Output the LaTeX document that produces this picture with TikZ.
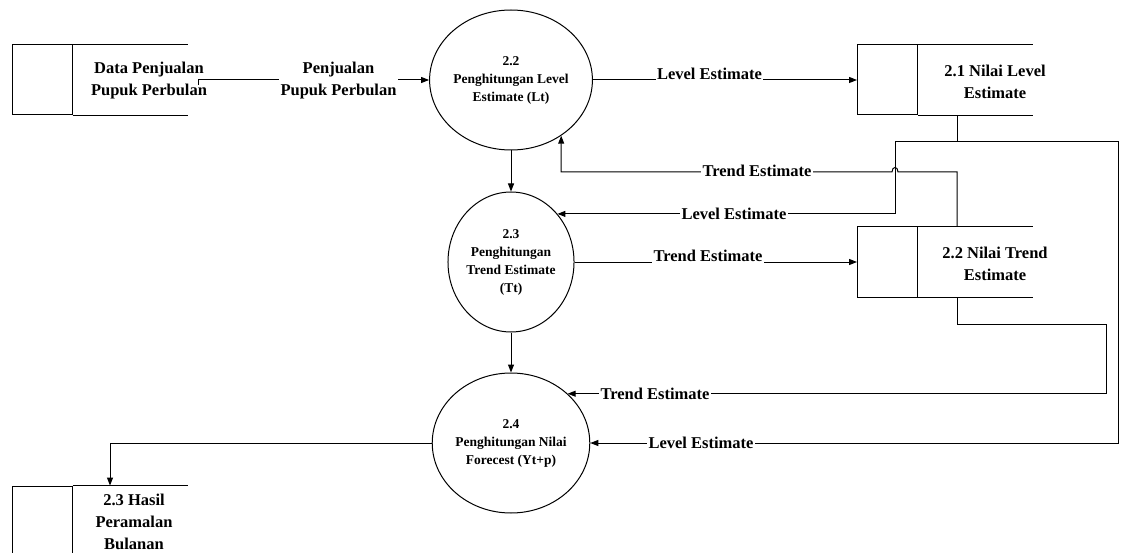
\documentclass[tikz,border=0pt]{standalone}
\usepackage{fontspec}
\setmainfont{Liberation Serif}
\usetikzlibrary{arrows.meta,shapes.geometric,calc}
\begin{document}
\begin{tikzpicture}[x=1pt,y=-1pt,
  line width=1pt,
  proc/.style={draw,ellipse,minimum width=125pt,minimum height=140pt,inner sep=0pt,align=center,font=\fontsize{13.5}{18}\selectfont\bfseries},
  idbox/.style={draw,minimum width=60pt,minimum height=70pt,inner sep=0pt},
  part/.style={minimum width=114pt,minimum height=70pt,inner sep=0pt},
  stxt/.style={align=center,font=\fontsize{16.5}{22}\selectfont\bfseries,inner sep=0pt},
  lbl/.style={fill=white,inner sep=1.5pt,align=center,font=\fontsize{16.5}{22}\selectfont\bfseries},
  arr/.style={-{Triangle[length=8pt,width=6pt]}}
]
\useasboundingbox (0,0) rectangle (1123,553);

% data stores
\node[idbox] (s1id) at (42,80) {};
\node[part,anchor=west] (s1) at (s1id.east) {};
\draw (s1.north west) -- (s1.north east) (s1.south west) -- (s1.south east);
\node[stxt] (s1t) at (149,81) {Data Penjualan\\Pupuk Perbulan};

\node[idbox] (s21id) at (887.5,80) {};
\node[part,anchor=west] (s21) at (s21id.east) {};
\draw (s21.north west) -- (s21.north east) (s21.south west) -- (s21.south east);
\node[stxt] (s21t) at (995,82) {2.1 Nilai Level\\Estimate};

\node[idbox] (s22id) at (887.5,262) {};
\node[part,anchor=west] (s22) at (s22id.east) {};
\draw (s22.north west) -- (s22.north east) (s22.south west) -- (s22.south east);
\node[stxt] (s22t) at (995,264) {2.2 Nilai Trend\\Estimate};

\node[idbox] (s3id) at (42,521) {};
\node[part,anchor=west] (s3) at (s3id.east) {};
\draw (s3.north west) -- (s3.north east) (s3.south west) -- (s3.south east);
\node[stxt] (s3t) at (134,522) {2.3 Hasil\\Peramalan\\Bulanan};

% processes
\node[proc] (c22) at (511,80) {2.2\\Penghitungan Level\\Estimate (Lt)};
\node[proc] (c23) at (511,262) {2.3\\Penghitungan\\Trend Estimate\\(Tt)};
\node[proc] (c24) at (511,443) {2.4\\Penghitungan Nilai\\Forecest (Yt+p)};

% helper coordinates
\coordinate (p0) at (198,80);
\coordinate (p0b) at (198,85);
\coordinate (jm) at (957,142);
\coordinate (jl) at (895,142);
\coordinate (jr) at (1118,142);
\coordinate (tf) at (957,172);
\coordinate (tb) at (957,324);
\coordinate (tr) at (1106,324);
\coordinate (jo) at (110,443);

% connectors
\draw[arr] (p0b) -- (p0) -- (c22.west);
\draw[arr] (c22.east) -- (s21id.west);
\draw[arr] (c22.south) -- (c23.north);
\draw[arr] (c23.south) -- (c24.north);
\draw[arr] (c23.east) -- (s22id.west);
\draw[arr] (jm |- s21.south) -- (jm) -- (jl) -- (jl |- c23.46) -- (c23.46);
\draw[arr] (jm) -- (jr) -- (jr |- c24.east) -- (c24.east);
\draw[arr] (tb |- s22.south) -- (tb) -- (tr) -- (tr |- c24.41) -- (c24.41);
\draw[arr] (tf |- s22.north) -- (tf) -- (898,172) .. controls (898,166) and (892,166) .. (892,172) -- (c22.-48 |- tf) -- (c22.-48);
\draw[arr] (c24.west) -- (jo) -- (jo |- s3.north);

% labels
\node[lbl] (l1) at (338.5,81) {Penjualan\\Pupuk Perbulan};
\node[lbl] (l2) at (709.5,74) {Level Estimate};
\node[lbl] (l3) at (757,171) {Trend Estimate};
\node[lbl] (l4) at ($(c23.46 -| jo)+(624,0)$) {Level Estimate};
\node[lbl] (l5) at (708,256) {Trend Estimate};
\node[lbl] (l6) at ($(c24.41 -| jo)+(545,0)$) {Trend Estimate};
\node[lbl] (l7) at (701,443) {Level Estimate};
\end{tikzpicture}
\end{document}
